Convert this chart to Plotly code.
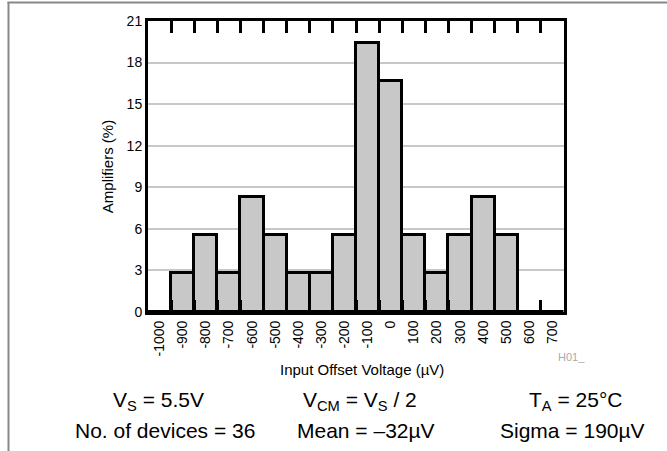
import plotly.graph_objects as go

categories = ["-1000", "-900", "-800", "-700", "-600", "-500", "-400", "-300", "-200",
              "-100", "0", "100", "200", "300", "400", "500", "600", "700"]
amplifiers_pct = [0, 2.78, 5.56, 2.78, 8.33, 5.56, 2.78, 2.78, 5.56,
                  19.44, 16.67, 5.56, 2.78, 5.56, 8.33, 5.56, 0, 0]
y_ticks = [0, 3, 6, 9, 12, 15, 18, 21]

W, H = 667, 451
L, R, T, B = 148, 103, 21, 139
PW, PH = W - L - R, H - T - B


def px(x):
    return (x - L) / PW


def py(y):
    return (H - B - y) / PH


FONT = "Liberation Sans, Arial, Helvetica, sans-serif"

fig = go.Figure(go.Bar(
    x=categories, y=amplifiers_pct,
    marker=dict(color="#c8c8c8", line=dict(color="black", width=3)),
    width=1,
))

fig.update_layout(
    width=W, height=H,
    margin=dict(l=L, r=R, t=T, b=B),
    paper_bgcolor="white", plot_bgcolor="white",
    showlegend=False,
    bargap=0,
    font=dict(family=FONT, color="black"),
)

fig.update_xaxes(
    type="category",
    showline=True, linewidth=3, linecolor="black", mirror="ticks",
    ticks="inside", tickson="boundaries", ticklen=12, tickwidth=3, tickcolor="black",
    tickangle=-90, tickfont=dict(size=14, family=FONT),
    showgrid=False,
)
fig.update_yaxes(
    range=[0, 21], tickvals=y_ticks,
    showline=True, linewidth=3, linecolor="black", mirror=True,
    ticks="", showgrid=True, gridcolor="#c8c8c8", gridwidth=2,
    zeroline=False,
    tickfont=dict(size=14, family=FONT),
    title=dict(text="Amplifiers (%)", font=dict(size=15, family=FONT), standoff=10),
)

ann = [
    ("Input Offset Voltage (µV)", 362, 369, 15, "black"),
    ("H01_", 571, 357, 11, "#aaaaaa"),
    ("V<sub>S</sub> = 5.5V", 158, 401, 21, "black"),
    ("V<sub>CM</sub> = V<sub>S</sub> / 2", 360, 401, 21, "black"),
    ("T<sub>A</sub> = 25°C", 575, 401, 21, "black"),
    ("No. of devices = 36", 165, 431, 21, "black"),
    ("Mean = –32µV", 366, 431, 21, "black"),
    ("Sigma = 190µV", 572, 431, 21, "black"),
]
for text, x, y, size, color in ann:
    fig.add_annotation(text=text, x=px(x), y=py(y), xref="paper", yref="paper",
                       xanchor="center", yanchor="middle", showarrow=False,
                       font=dict(size=size, family=FONT, color=color))

# outer frame
fig.add_shape(type="line", xref="paper", yref="paper",
              x0=px(8.5), x1=px(8.5), y0=py(2), y1=py(451),
              line=dict(color="#888888", width=2))
fig.add_shape(type="line", xref="paper", yref="paper",
              x0=px(7.5), x1=px(667), y0=py(2.5), y1=py(2.5),
              line=dict(color="#888888", width=2))

fig.write_html(
    "out.html",
    config={"displayModeBar": False},
    post_script="document.body.style.margin='0';document.body.style.overflow='hidden';",
)
